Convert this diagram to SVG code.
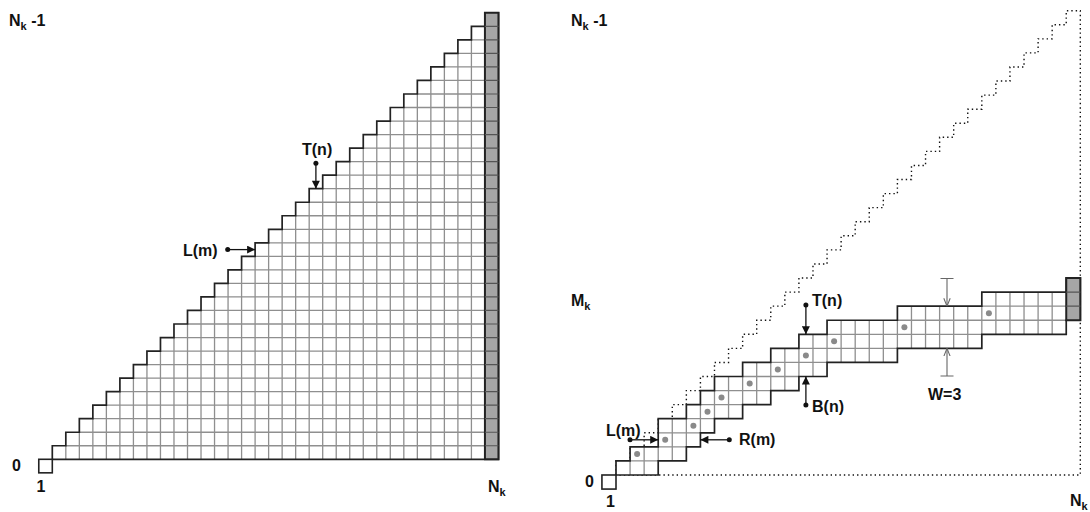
<svg xmlns="http://www.w3.org/2000/svg" width="1090" height="512" viewBox="0 0 1090 512">
<style>
text{font-family:"Liberation Sans",Arial,sans-serif;font-weight:bold;font-size:16px;fill:#111}
.sub{font-size:11px}
.in{fill:none;stroke:#8f8f8f;stroke-width:1.3}
.out{fill:none;stroke:#222;stroke-width:1.7}
.gry{fill:#a6a6a6;stroke:#222;stroke-width:2}
.gin{fill:none;stroke:#555;stroke-width:1.2}
.dotl{fill:none;stroke:#111;stroke-width:1.4;stroke-dasharray:1.4 3}
.arr{stroke:#111;stroke-width:1.3;fill:none;marker-end:url(#ah)}
.pt{fill:#111}
.mk{fill:#8a8a8a}
.w{stroke:#666;stroke-width:1.1;fill:none}
.sq{fill:#fff;stroke:#222;stroke-width:1.6}
</style>
<defs>
<marker id="ah" viewBox="0 0 10 10" refX="10" refY="5" markerUnits="userSpaceOnUse" markerWidth="9" markerHeight="8" orient="auto">
<path d="M0 0L10 5L0 10Z" fill="#111"/>
</marker>
<marker id="oa" viewBox="0 0 10 10" refX="10" refY="5" markerUnits="userSpaceOnUse" markerWidth="8" markerHeight="8" orient="auto">
<path d="M0 1L10 5L0 9" fill="none" stroke="#666" stroke-width="1.3"/>
</marker>
</defs>

<g id="left-matrix">
<g transform="translate(52.3 459.3) scale(13.52 -13.53)">
<path d="M0 0V1H1V2H2V3H3V4H4V5H5V6H6V7H7V8H8V9H9V10H10V11H11V12H12V13H13V14H14V15H15V16H16V17H17V18H18V19H19V20H20V21H21V22H22V23H23V24H24V25H25V26H26V27H27V28H28V29H29V30H30V31H31V32H32V33H33V0Z" fill="#fff" stroke="none"/>
<path class="in" vector-effect="non-scaling-stroke" d="M1 0V1M2 0V2M3 0V3M4 0V4M5 0V5M6 0V6M7 0V7M8 0V8M9 0V9M10 0V10M11 0V11M12 0V12M13 0V13M14 0V14M15 0V15M16 0V16M17 0V17M18 0V18M19 0V19M20 0V20M21 0V21M22 0V22M23 0V23M24 0V24M25 0V25M26 0V26M27 0V27M28 0V28M29 0V29M30 0V30M31 0V31"/>
<path class="in" vector-effect="non-scaling-stroke" d="M1 1H32M2 2H32M3 3H32M4 4H32M5 5H32M6 6H32M7 7H32M8 8H32M9 9H32M10 10H32M11 11H32M12 12H32M13 13H32M14 14H32M15 15H32M16 16H32M17 17H32M18 18H32M19 19H32M20 20H32M21 21H32M22 22H32M23 23H32M24 24H32M25 25H32M26 26H32M27 27H32M28 28H32M29 29H32M30 30H32M31 31H32"/>
<path class="out" vector-effect="non-scaling-stroke" d="M0 0V1H1V2H2V3H3V4H4V5H5V6H6V7H7V8H8V9H9V10H10V11H11V12H12V13H13V14H14V15H15V16H16V17H17V18H18V19H19V20H20V21H21V22H22V23H23V24H24V25H25V26H26V27H27V28H28V29H29V30H30V31H31V32H32V33H33V0Z"/>
<rect class="gry" vector-effect="non-scaling-stroke" x="32" y="0" width="1" height="33"/>
<path class="gin" vector-effect="non-scaling-stroke" d="M32 1H33M32 2H33M32 3H33M32 4H33M32 5H33M32 6H33M32 7H33M32 8H33M32 9H33M32 10H33M32 11H33M32 12H33M32 13H33M32 14H33M32 15H33M32 16H33M32 17H33M32 18H33M32 19H33M32 20H33M32 21H33M32 22H33M32 23H33M32 24H33M32 25H33M32 26H33M32 27H33M32 28H33M32 29H33M32 30H33M32 31H33M32 32H33"/>
</g>
<rect class="sq" x="38.78" y="459.3" width="13.52" height="13.53"/>
</g>

<g id="right-matrix">
<path class="dotl" d="M616 475V460.93H630.07V446.86H644.14V432.79H658.21V418.72H672.28V404.65H686.35V390.58H700.42V376.51H714.49V362.44H728.56V348.37H742.63V334.3H756.7V320.23H770.77V306.16H784.84V292.09H798.91V278.02H812.98V263.95H827.05V249.88H841.12V235.81H855.19V221.74H869.26V207.67H883.33V193.6H897.4V179.53H911.47V165.46H925.54V151.39H939.61V137.32H953.68V123.25H967.75V109.18H981.82V95.11H995.89V81.04H1009.96V66.97H1024.03V52.9H1038.1V38.83H1052.17V24.76H1066.24V10.69H1080.31V475H616"/>
<g transform="translate(616 475) scale(14.07 -14.07)">
<path d="M0 0V1H1V2H3V4H5V5H6V6H7V7H9V8H11V9H13V10H15V11H20V12H26V13H32V14H33V11H32V10H26V9H20V8H15V7H13V6H11V5H9V4H7V3H6V2H5V1H3V0Z" fill="#fff" stroke="none"/>
<path class="in" vector-effect="non-scaling-stroke" d="M1 0V1M2 0V2M3 1V2M4 1V4M5 2V4M6 3V5M7 4V6M8 4V7M9 5V7M10 5V8M11 6V8M12 6V9M13 7V9M14 7V10M15 8V10M16 8V11M17 8V11M18 8V11M19 8V11M20 9V11M21 9V12M22 9V12M23 9V12M24 9V12M25 9V12M26 10V12M27 10V13M28 10V13M29 10V13M30 10V13M31 10V13"/>
<path class="in" vector-effect="non-scaling-stroke" d="M1 1H3M3 2H5M3 3H6M5 4H7M6 5H9M7 6H11M9 7H13M11 8H15M13 9H20M15 10H26M20 11H32M26 12H32"/>
<path class="out" vector-effect="non-scaling-stroke" d="M0 0V1H1V2H3V4H5V5H6V6H7V7H9V8H11V9H13V10H15V11H20V12H26V13H32V14H33V11H32V10H26V9H20V8H15V7H13V6H11V5H9V4H7V3H6V2H5V1H3V0Z"/>
<rect class="gry" vector-effect="non-scaling-stroke" x="32" y="11" width="1" height="3"/>
<path class="gin" vector-effect="non-scaling-stroke" d="M32 12H33M32 13H33"/>
</g>
<rect class="sq" x="601.93" y="475" width="14.07" height="14.07"/>
<g id="pivots">
<circle class="mk" cx="637.1" cy="453.9" r="3"/>
<circle class="mk" cx="665.2" cy="439.8" r="3"/>
<circle class="mk" cx="693.4" cy="425.8" r="3"/>
<circle class="mk" cx="707.5" cy="411.7" r="3"/>
<circle class="mk" cx="721.5" cy="397.6" r="3"/>
<circle class="mk" cx="749.7" cy="383.5" r="3"/>
<circle class="mk" cx="777.8" cy="369.5" r="3"/>
<circle class="mk" cx="805.9" cy="355.4" r="3"/>
<circle class="mk" cx="834.1" cy="341.3" r="3"/>
<circle class="mk" cx="904.4" cy="327.3" r="3"/>
<circle class="mk" cx="988.9" cy="313.2" r="3"/>
</g>
</g>

<g id="connectors">
<circle class="pt" cx="315.9" cy="163.3" r="2.5"/>
<line class="arr" x1="315.9" y1="163.3" x2="315.9" y2="188.7"/>
<circle class="pt" cx="227.7" cy="249.6" r="2.5"/>
<line class="arr" x1="227.7" y1="249.6" x2="255.1" y2="249.6"/>
<circle class="pt" cx="805.9" cy="305" r="2.5"/>
<line class="arr" x1="805.9" y1="305" x2="805.9" y2="334.3"/>
<circle class="pt" cx="805.9" cy="405" r="2.5"/>
<line class="arr" x1="805.9" y1="405" x2="805.9" y2="376.5"/>
<circle class="pt" cx="630" cy="439.8" r="2.5"/>
<line class="arr" x1="630" y1="439.8" x2="658.2" y2="439.8"/>
<circle class="pt" cx="729.3" cy="439.8" r="2.5"/>
<line class="arr" x1="729.3" y1="439.8" x2="700.4" y2="439.8"/>
<path class="w" d="M940.5 278.5H953.5M940.5 376H953.5"/>
<line class="w" x1="947" y1="278.5" x2="947" y2="306.2" marker-end="url(#oa)"/>
<line class="w" x1="947" y1="376" x2="947" y2="348.4" marker-end="url(#oa)"/>
</g>

<g id="labels">
<text x="9" y="26">N<tspan class="sub" dy="4">k</tspan><tspan dy="-4"> -1</tspan></text>
<text x="302" y="155">T(n)</text>
<text x="183" y="256">L(m)</text>
<text x="12" y="471">0</text>
<text x="36.5" y="492">1</text>
<text x="488" y="492">N<tspan class="sub" dy="4">k</tspan></text>
<text x="571" y="26">N<tspan class="sub" dy="4">k</tspan><tspan dy="-4"> -1</tspan></text>
<text x="571" y="306">M<tspan class="sub" dy="4">k</tspan></text>
<text x="812" y="306">T(n)</text>
<text x="812" y="412">B(n)</text>
<text x="739" y="445">R(m)</text>
<text x="606" y="436">L(m)</text>
<text x="928" y="400">W=3</text>
<text x="585" y="487">0</text>
<text x="606" y="507">1</text>
<text x="1070" y="506">N<tspan class="sub" dy="4">k</tspan></text>
</g>
</svg>
